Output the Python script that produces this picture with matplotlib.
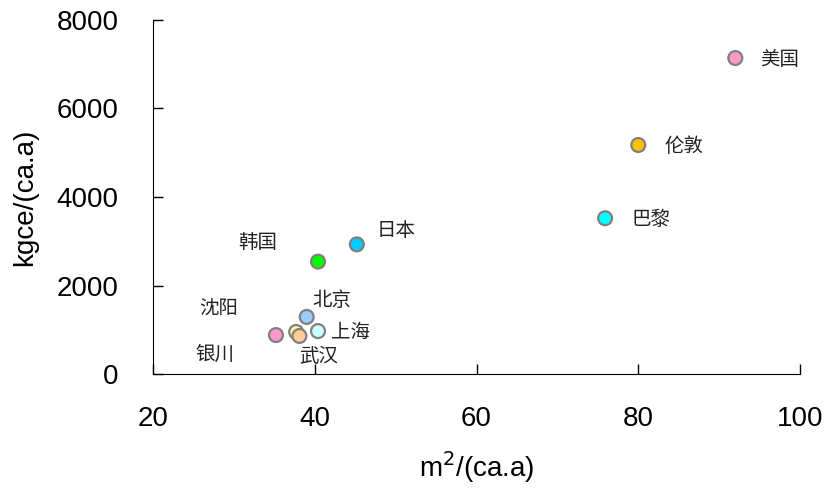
import matplotlib.pyplot as plt

plt.rcParams['font.family'] = ['Liberation Sans', 'DejaVu Sans']

# data
cities = ['美国', '伦敦', '巴黎', '日本', '韩国', '北京', '上海', '沈阳', '武汉', '银川']
area = [92.0, 80.0, 75.9, 45.2, 40.4, 39.0, 40.4, 37.7, 38.1, 35.2]
energy = [7140, 5175, 3520, 2930, 2540, 1290, 970, 950, 860, 880]
colors = ['#FF99CC', '#FFC000', '#00FFFF', '#00CCFF', '#00FF00',
          '#99CCFF', '#CCFFFF', '#FFFF99', '#FFCC99', '#FF99CC']

# label offsets (points) and alignment
offsets = [(18, -1), (19, -1), (19, -1), (14, 10), (-29, 14),
           (4, 12), (9, -1), (-42, 17), (0, -15), (-30, -14)]
aligns = ['left', 'left', 'left', 'left', 'right',
          'left', 'left', 'right', 'left', 'right']

xticks = [20, 40, 60, 80, 100]
yticks = [0, 2000, 4000, 6000, 8000]

fig = plt.figure(figsize=(8.25, 4.9), dpi=100)
ax = fig.add_axes([0.1855, 0.2367, 0.7842, 0.7225])

ax.scatter(area, energy, s=100, c=colors, edgecolors='#808080',
           linewidths=1.6, zorder=3)

for name, x, y, off, ha in zip(cities, area, energy, offsets, aligns):
    ax.annotate(name, (x, y), xytext=off, textcoords='offset points',
                ha=ha, va='center', fontsize=14,
                family=['Noto Sans CJK SC', 'DejaVu Sans'], color='#222222')

ax.set_xlim(20, 100)
ax.set_ylim(0, 8000)
ax.set_xticks(xticks)
ax.set_yticks(yticks)
ax.spines['top'].set_visible(False)
ax.spines['right'].set_visible(False)
ax.tick_params(direction='in', length=7, width=1, labelsize=20)
ax.tick_params(axis='y', pad=25)
ax.tick_params(axis='x', pad=23)

ax.set_xlabel('m$^2$/(ca.a)', fontsize=20, labelpad=12)
ax.set_ylabel('kgce/(ca.a)', fontsize=20, labelpad=13)

fig.savefig('out.png', dpi=100)
